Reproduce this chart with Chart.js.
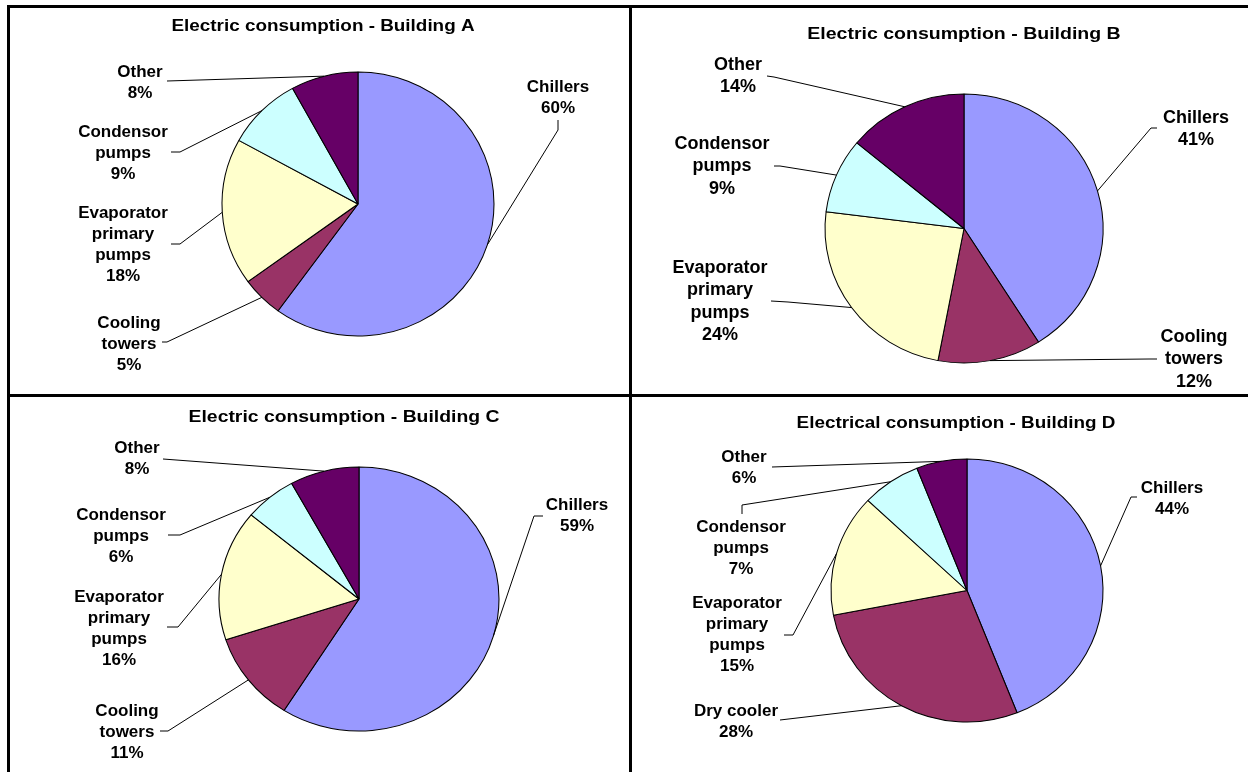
<!DOCTYPE html>
<html>
<head>
<meta charset="utf-8">
<script src="https://cdn.jsdelivr.net/npm/chart.js@4.4.1/dist/chart.umd.min.js"></script>
<style>
    html, body { margin: 0; padding: 0; background: #fff; overflow: hidden; }
    body { width: 1248px; height: 772px; position: relative; }
    .rule { position: absolute; background: #000; }
    canvas { position: absolute; display: block; }
</style>
</head>
<body>
<div class="rule" style="left:7px; top:5px; width:1241px; height:3px"></div>
<div class="rule" style="left:7px; top:5px; width:3px; height:767px"></div>
<div class="rule" style="left:629px; top:5px; width:3px; height:767px"></div>
<div class="rule" style="left:7px; top:394px; width:1241px; height:3px"></div>
<canvas id="chartA"></canvas>
<canvas id="chartB"></canvas>
<canvas id="chartC"></canvas>
<canvas id="chartD"></canvas>
<script>
// data, one set per building (slice order: clockwise from 12 o'clock)
const categoriesABC = ['Chillers', 'Cooling\ntowers', 'Evaporator\nprimary\npumps', 'Condensor\npumps', 'Other']
const categoriesD = ['Chillers', 'Dry cooler', 'Evaporator\nprimary\npumps', 'Condensor\npumps', 'Other']
const valuesA = [60, 5, 18, 9, 8]
const valuesB = [41, 12, 24, 9, 14]
const valuesC = [59, 11, 16, 6, 8]
const valuesD = [44, 28, 15, 7, 6]
const titleA = 'Electric consumption - Building A'
const titleB = 'Electric consumption - Building B'
const titleC = 'Electric consumption - Building C'
const titleD = 'Electrical consumption - Building D'
const sliceColors = ['#9999FF', '#993366', '#FFFFCC', '#CCFFFF', '#660066']

// layout, page coordinates (cell = x, y, w, h)
const layoutA = {
    cell: [10, 8, 619, 386], center: [358, 204], rx: 136, ry: 132,
    title: [323, 27], titleStretch: 1.18, font: 17, lineH: 21,
    labels: [
        {at: [558, 87], line: [[558, 120], [558, 130]]},
        {at: [129, 323], line: [[162, 342], [167, 342]]},
        {at: [123, 213], line: [[171, 244], [180, 244]]},
        {at: [123, 132], line: [[171, 152], [180, 152]]},
        {at: [140, 72], line: [[167, 81]]},
    ]
}
const layoutB = {
    cell: [632, 8, 616, 386], center: [964, 228.5], rx: 139, ry: 134.5,
    title: [964, 35], titleStretch: 1.22, font: 18, lineH: 22.5,
    labels: [
        {at: [1196, 118], line: [[1157, 128], [1151, 128]]},
        {at: [1194, 337], line: [[1157, 359], [1149, 359]]},
        {at: [720, 268], line: [[771, 301], [788, 302]]},
        {at: [722, 144], line: [[774, 166], [780, 166]]},
        {at: [738, 65], line: [[767, 76], [774, 77]]},
    ]
}
const layoutC = {
    cell: [10, 397, 619, 375], center: [359, 599], rx: 140, ry: 132,
    title: [344, 418], titleStretch: 1.21, font: 17, lineH: 21,
    labels: [
        {at: [577, 505], line: [[543, 516], [534, 516]]},
        {at: [127, 711], line: [[160, 731], [168, 731]]},
        {at: [119, 597], line: [[167, 627], [178, 627]]},
        {at: [121, 515], line: [[168, 535], [180, 535]]},
        {at: [137, 448], line: [[163, 459]]},
    ]
}
const layoutD = {
    cell: [632, 397, 616, 375], center: [967, 590.5], rx: 136, ry: 131.5,
    title: [956, 424], titleStretch: 1.18, font: 17, lineH: 21,
    labels: [
        {at: [1172, 488], line: [[1137, 497], [1131, 497]]},
        {at: [736, 711], line: [[780, 720]]},
        {at: [737, 603], line: [[784, 635], [793, 635]]},
        {at: [741, 527], line: [[742, 514], [742, 505]]},
        {at: [744, 457], line: [[772, 467]]},
    ]
}

const FONT = '"Liberation Sans", Arial, sans-serif'

function makePie(id, title, categories, values, lay) {
    const canvas = document.getElementById(id)
    const [ox, oy, w, h] = lay.cell
    canvas.width = w
    canvas.height = h
    canvas.style.left = ox + 'px'
    canvas.style.top = oy + 'px'

    // centre the chart area on the pie centre
    const lcx = lay.center[0] - ox
    const lcy = lay.center[1] - oy
    const s = Math.min(lcx, w - lcx, lcy, h - lcy) - 2
    const k = lay.rx / lay.ry

    const decorate = {
        id: 'decorate',
        beforeDatasetsDraw(chart) {
            // squash the circle a little to get the slightly wide pie
            const ctx = chart.ctx
            const arc = chart.getDatasetMeta(0).data[0]
            ctx.save()
            ctx.translate(arc.x, arc.y)
            ctx.scale(k, 1)
            ctx.translate(-arc.x, -arc.y)
        },
        afterDatasetsDraw(chart) {
            const ctx = chart.ctx
            ctx.restore()

            // title
            ctx.save()
            ctx.fillStyle = '#000'
            ctx.textAlign = 'center'
            ctx.textBaseline = 'middle'
            ctx.font = 'bold 16px ' + FONT
            ctx.translate(lay.title[0] - ox, lay.title[1] - oy)
            ctx.scale(lay.titleStretch, 1)
            ctx.fillText(title, 0, 0)
            ctx.restore()

            // leader lines + labels
            const arcs = chart.getDatasetMeta(0).data
            ctx.save()
            ctx.strokeStyle = '#000'
            ctx.lineWidth = 1
            ctx.fillStyle = '#000'
            ctx.textAlign = 'center'
            ctx.textBaseline = 'middle'
            ctx.font = 'bold ' + lay.font + 'px ' + FONT
            for (let i = 0; i < arcs.length; i++) {
                const p = arcs[i].getProps(['x', 'y', 'startAngle', 'endAngle', 'outerRadius'], true)
                const mid = (p.startAngle + p.endAngle) / 2
                const ex = p.x + Math.cos(mid) * p.outerRadius * k
                const ey = p.y + Math.sin(mid) * p.outerRadius
                const lab = lay.labels[i]
                ctx.beginPath()
                lab.line.forEach((pt, j) => {
                    if (j == 0) ctx.moveTo(pt[0] - ox, pt[1] - oy)
                    else ctx.lineTo(pt[0] - ox, pt[1] - oy)
                })
                ctx.lineTo(ex, ey)
                ctx.stroke()

                const lines = categories[i].split('\n').concat([values[i] + '%'])
                for (let n = 0; n < lines.length; n++) {
                    ctx.fillText(lines[n], lab.at[0] - ox, lab.at[1] - oy + n * lay.lineH)
                }
            }
            ctx.restore()
        }
    }

    return new Chart(canvas, {
        type: 'pie',
        data: {
            labels: categories,
            datasets: [{
                data: values,
                backgroundColor: sliceColors,
                borderColor: '#000',
                borderWidth: 1,
                hoverOffset: 0,
                radius: lay.ry,
                clip: false,
            }]
        },
        options: {
            responsive: false,
            animation: false,
            events: [],
            layout: {
                padding: {left: lcx - s, right: w - lcx - s, top: lcy - s, bottom: h - lcy - s}
            },
            plugins: {
                legend: {display: false},
                title: {display: false},
                tooltip: {enabled: false},
            }
        },
        plugins: [decorate]
    })
}

makePie('chartA', titleA, categoriesABC, valuesA, layoutA)
makePie('chartB', titleB, categoriesABC, valuesB, layoutB)
makePie('chartC', titleC, categoriesABC, valuesC, layoutC)
makePie('chartD', titleD, categoriesD, valuesD, layoutD)
</script>
</body>
</html>
